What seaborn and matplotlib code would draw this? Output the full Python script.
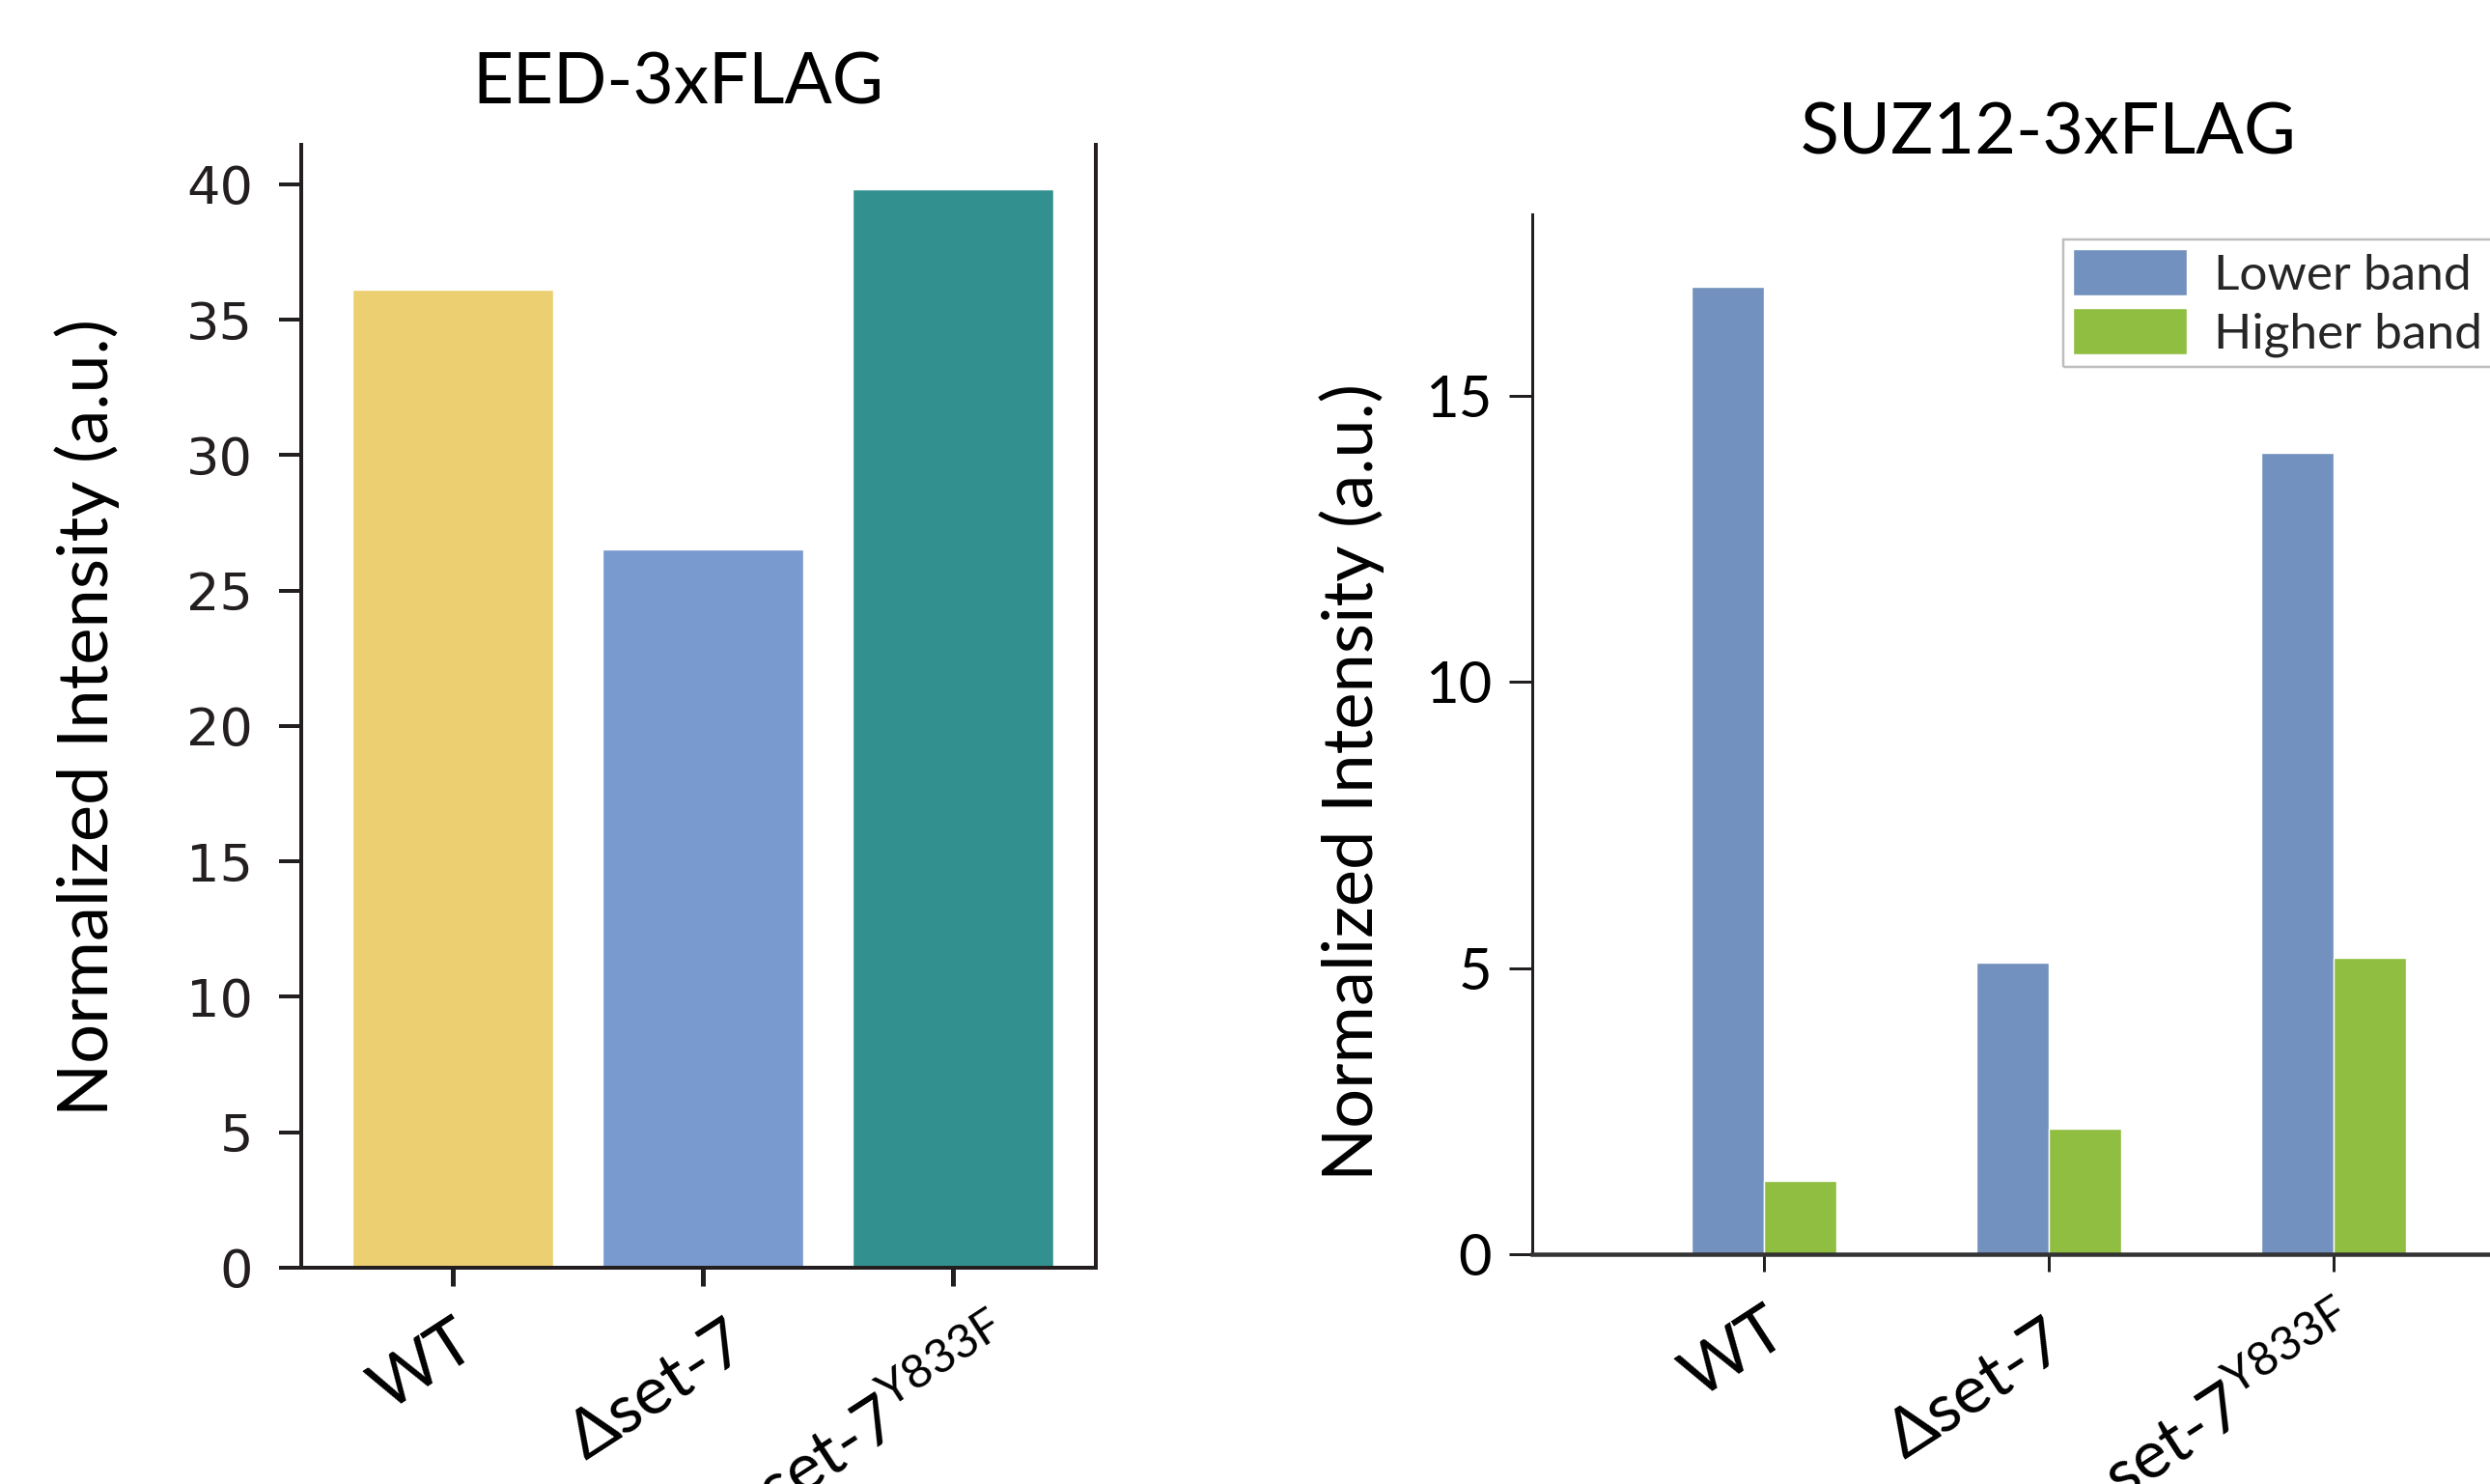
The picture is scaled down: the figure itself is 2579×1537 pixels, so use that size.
import matplotlib
matplotlib.use('Agg')
import matplotlib.pyplot as plt
import seaborn as sns
import pandas as pd
from matplotlib.transforms import ScaledTranslation

# ---------------- data ----------------
strains = ['WT', 'Δset-7', 'set-7$^{\\mathregular{Y833F}}$']
eed_values = [36.1, 26.5, 39.8]
bands = ['Lower band', 'Higher band']
suz12_lower = [16.9, 5.1, 14.0]
suz12_higher = [1.28, 2.2, 5.18]

eed_title = 'EED-3xFLAG'
suz_title = 'SUZ12-3xFLAG'
ylabel = 'Normalized Intensity (a.u.)'
eed_yticks = [0, 5, 10, 15, 20, 25, 30, 35, 40]
suz_yticks = [0, 5, 10, 15]

eed_colors = ['#ECCF70', '#789ACF', '#32918F']
suz_colors = ['#7291BE', '#90BE40']

# ---------------- figure ----------------
W, H = 2579, 1537
DPI = 100
PT = 72.0 / DPI  # points per pixel

sns.set_theme(style='ticks')
plt.rcParams['font.family'] = ['Lato', 'DejaVu Sans']
plt.rcParams['axes.facecolor'] = 'none'

fig = plt.figure(figsize=(W / DPI, H / DPI), dpi=DPI)
fig.patch.set_facecolor('white')


def rect(x0, y0, x1, y1):
    return [x0 / W, 1 - y1 / H, (x1 - x0) / W, (y1 - y0) / H]


def shift_labels(labels, offsets):
    for t, (dx, dy) in zip(labels, offsets):
        t.set_transform(t.get_transform() + ScaledTranslation(dx / DPI, dy / DPI, fig.dpi_scale_trans))


dark = '#231F20'

# ---------------- left: EED ----------------
ax1 = fig.add_axes(rect(312, 150, 1135, 1313))
df1 = pd.DataFrame({'strain': strains, 'value': eed_values})
sns.barplot(data=df1, x='strain', y='value', hue='strain', palette=eed_colors,
            width=0.8, saturation=1, legend=False, ax=ax1)
ax1.set_xlim(-0.606, 2.571)
ax1.set_ylim(0, 41.45)
ax1.set_yticks(eed_yticks)
ax1.set_xlabel('')
ax1.set_ylabel('')
ax1.spines['top'].set_visible(False)
for s in ['left', 'right', 'bottom']:
    ax1.spines[s].set_color(dark)
    ax1.spines[s].set_linewidth(4 * PT)
ax1.tick_params(axis='y', length=23 * PT, width=4 * PT, pad=27 * PT, color=dark,
                labelsize=39, labelcolor=dark)
ax1.tick_params(axis='x', length=19 * PT, width=5 * PT, pad=26 * PT, color=dark,
                labelsize=50, labelcolor='black')
for t in ax1.get_yticklabels():
    t.set_fontfamily(['DejaVu Sans'])
ax1.set_xticks(range(len(strains)))
ax1.set_xticklabels(strains, rotation=33, ha='right', va='top', rotation_mode='anchor')
shift_labels(ax1.get_xticklabels(), [(0, 0), (22, 0), (40, 0)])

# ---------------- right: SUZ12 ----------------
ax2 = fig.add_axes(rect(1587, 222, 2653, 1299))
df2 = pd.DataFrame({
    'strain': strains * 2,
    'band': [bands[0]] * 3 + [bands[1]] * 3,
    'value': suz12_lower + suz12_higher,
})
sns.barplot(data=df2, x='strain', y='value', hue='band', hue_order=bands,
            palette=suz_colors, width=0.508, saturation=1, ax=ax2)
ax2.set_xlim(-0.814, 2.8)
ax2.set_ylim(0, 18.17)
ax2.set_yticks(suz_yticks)
ax2.set_xlabel('')
ax2.set_ylabel('')
ax2.spines['top'].set_visible(False)
ax2.spines['right'].set_visible(False)
ax2.spines['left'].set_color(dark)
ax2.spines['left'].set_linewidth(3 * PT)
ax2.spines['bottom'].set_color('#333333')
ax2.spines['bottom'].set_linewidth(4.5 * PT)
ax2.tick_params(axis='y', length=24 * PT, width=3 * PT, pad=18 * PT, color=dark,
                labelsize=43, labelcolor='black')
ax2.tick_params(axis='x', length=18 * PT, width=3 * PT, pad=28 * PT, color=dark,
                labelsize=50, labelcolor='black')
ax2.set_xticks(range(len(strains)))
ax2.set_xticklabels(strains, rotation=33, ha='right', va='top', rotation_mode='anchor')
shift_labels(ax2.get_xticklabels(), [(0, 0), (-6, -12), (4, 0)])

handles, labels = ax2.get_legend_handles_labels()
leg = ax2.legend(handles, labels, loc='upper left',
                 bbox_to_anchor=(2137 / W, 1 - 248 / H), bbox_transform=fig.transFigure,
                 frameon=True, fancybox=False, framealpha=1, edgecolor='#BDBDBD',
                 fontsize=37, handlelength=2.3, handleheight=1.06, labelspacing=0.2,
                 handletextpad=0.53, borderpad=0.2, borderaxespad=0)
leg.get_frame().set_linewidth(2.5 * PT)

# ---------------- titles and axis labels ----------------
fig.text(702 / W, 1 - 108 / H, eed_title, ha='center', va='baseline', fontsize=52.5, color='black')
fig.text(2122 / W, 1 - 160 / H, suz_title, ha='center', va='baseline', fontsize=53, color='black')
fig.text(90 / W, 1 - 743 / H, ylabel, rotation=90, ha='center', va='center', fontsize=52, color='black')
fig.text(1400 / W, 1 - 810 / H, ylabel, rotation=90, ha='center', va='center', fontsize=52, color='black')

fig.savefig('out.png', dpi=DPI)
